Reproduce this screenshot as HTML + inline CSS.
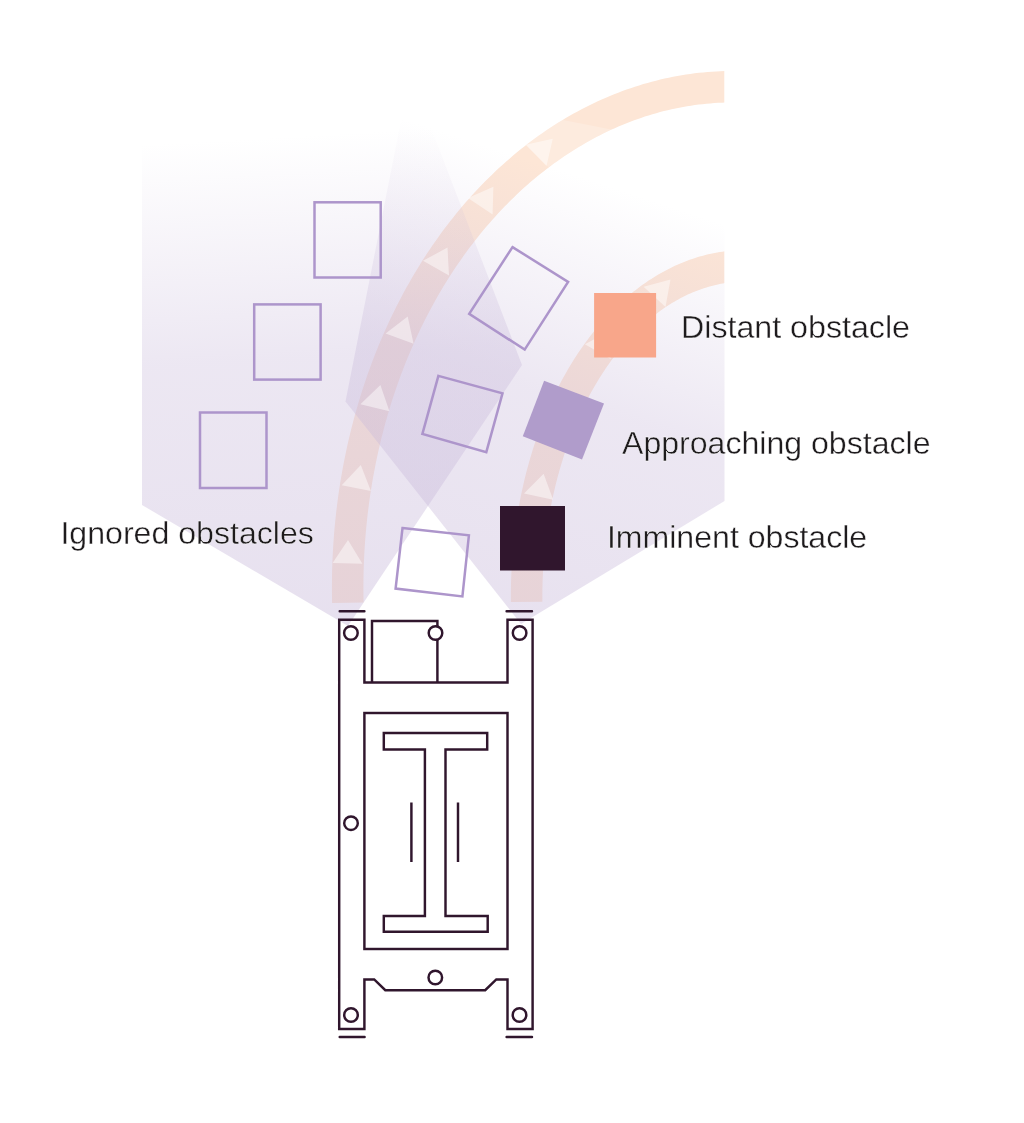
<!DOCTYPE html>
<html><head><meta charset="utf-8"><style>
html,body{margin:0;padding:0;background:#fff;}
svg{display:block;will-change:transform;}
text{font-family:"Liberation Sans",sans-serif;font-size:30.5px;fill:#1e1b1d;stroke:#fff;stroke-width:0.35px;}
</style></head><body>
<svg width="1024" height="1123" viewBox="0 0 1024 1123">
<defs>
<linearGradient id="gl" gradientUnits="userSpaceOnUse" x1="300" y1="627" x2="272" y2="137">
<stop offset="0" stop-color="#c8b9da" stop-opacity="0.44"/>
<stop offset="0.55" stop-color="#c8b9da" stop-opacity="0.34"/>
<stop offset="1" stop-color="#c8b9da" stop-opacity="0"/>
</linearGradient>
<linearGradient id="gr" gradientUnits="userSpaceOnUse" x1="490" y1="652" x2="640" y2="196">
<stop offset="0" stop-color="#c8b9da" stop-opacity="0.44"/>
<stop offset="0.55" stop-color="#c8b9da" stop-opacity="0.34"/>
<stop offset="1" stop-color="#c8b9da" stop-opacity="0"/>
</linearGradient>
<clipPath id="clipband"><rect x="0" y="0" width="724.3" height="1123"/></clipPath>
</defs>
<rect width="1024" height="1123" fill="#fff"/>
<g clip-path="url(#clipband)">
<g fill="none" stroke="#fde6d6" stroke-width="31.5">
<path d="M347.84,602.70 L347.73,597.35 L347.68,592.01 L347.66,586.66 L347.69,581.31 L347.76,575.97 L347.88,570.62 L348.04,565.28 L348.25,559.94 L348.50,554.60 L348.79,549.27 L349.13,543.94 L349.51,538.62 L349.93,533.30 L350.40,527.99 L350.91,522.68 L351.47,517.38 L352.06,512.09 L352.71,506.81 L353.39,501.54 L354.12,496.28 L354.89,491.03 L355.71,485.78 L356.57,480.55 L357.47,475.34 L358.41,470.13 L359.40,464.94 L360.43,459.76 L361.50,454.60 L362.62,449.45 L363.78,444.32 L364.97,439.21 L366.22,434.11 L367.50,429.03 L368.82,423.97 L370.19,418.92 L371.60,413.90 L373.05,408.89 L374.54,403.91 L376.07,398.94 L377.64,394.00 L379.25,389.08 L380.90,384.18 L382.60,379.31 L384.33,374.46 L386.10,369.63 L387.91,364.83 L389.77,360.05 L391.66,355.30 L393.59,350.58 L395.56,345.88 L397.56,341.21 L399.61,336.57 L401.69,331.96 L403.81,327.37 L405.97,322.82 L408.17,318.29 L410.40,313.80 L412.67,309.34 L414.98,304.91 L417.32,300.51 L419.70,296.15 L422.11,291.81 L424.56,287.52 L427.05,283.25 L429.57,279.02 L432.12,274.83 L434.71,270.67 L437.34,266.55 L440.00,262.46 L442.69,258.41 L445.41,254.40 L448.17,250.43 L450.96,246.49 L453.78,242.59 L456.63,238.74 L459.51,234.92 L462.43,231.14 L465.38,227.41 L468.36,223.71 L471.36,220.06 L474.40,216.45 L477.47,212.88 L480.56,209.35 L483.69,205.87 L486.84,202.43 L490.02,199.03 L493.23,195.68 L496.47,192.37 L499.74,189.11 L503.03,185.89 L506.34,182.72 L509.69,179.59 L513.05,176.51 L516.45,173.48 L519.87,170.50 L523.31,167.56 L526.77,164.67 L530.26,161.83 L533.78,159.04 L537.31,156.29 L540.87,153.60 L544.45,150.95 L548.05,148.36 L551.68,145.81 L555.32,143.32 L558.99,140.87 L562.67,138.48 L566.37,136.14 L570.09,133.85 L573.84,131.61 L577.60,129.42 L581.37,127.29 L585.17,125.20 L588.98,123.18 L592.81,121.20 L596.65,119.27 L600.51,117.40 L604.38,115.59 L608.27,113.82 L612.18,112.12 L616.09,110.46 L620.03,108.86 L623.97,107.31 L627.93,105.82 L631.89,104.39 L635.87,103.01 L639.86,101.68 L643.87,100.41 L647.88,99.19 L651.90,98.03 L655.93,96.93 L659.97,95.88 L664.02,94.89 L668.08,93.96 L672.14,93.08 L676.21,92.25 L680.29,91.49 L684.37,90.78 L688.46,90.12 L692.55,89.53 L696.65,88.99 L700.75,88.50 L704.86,88.08 L708.97,87.71 L713.08,87.40 L717.20,87.14 L721.32,86.94 L725.43,86.80 L729.55,86.72 L733.57,86.69"/>
<path d="M526.64,601.90 L526.61,598.40 L526.61,594.90 L526.64,591.40 L526.68,587.90 L526.76,584.40 L526.85,580.90 L526.97,577.41 L527.12,573.92 L527.29,570.42 L527.48,566.94 L527.70,563.45 L527.94,559.97 L528.21,556.49 L528.50,553.02 L528.82,549.55 L529.16,546.09 L529.53,542.64 L529.91,539.19 L530.33,535.74 L530.77,532.30 L531.23,528.87 L531.71,525.45 L532.22,522.04 L532.75,518.63 L533.31,515.23 L533.89,511.84 L534.50,508.46 L535.12,505.10 L535.78,501.74 L536.45,498.39 L537.15,495.05 L537.87,491.73 L538.62,488.41 L539.38,485.11 L540.18,481.82 L540.99,478.54 L541.83,475.28 L542.69,472.03 L543.57,468.79 L544.48,465.57 L545.40,462.36 L546.35,459.17 L547.33,455.99 L548.32,452.83 L549.34,449.69 L550.38,446.56 L551.44,443.45 L552.52,440.35 L553.63,437.28 L554.75,434.22 L555.90,431.18 L557.07,428.15 L558.26,425.15 L559.47,422.16 L560.70,419.20 L561.95,416.25 L563.22,413.33 L564.51,410.43 L565.83,407.54 L567.16,404.68 L568.51,401.84 L569.89,399.02 L571.28,396.22 L572.69,393.45 L574.12,390.70 L575.57,387.97 L577.04,385.26 L578.53,382.58 L580.04,379.92 L581.57,377.29 L583.11,374.68 L584.67,372.09 L586.25,369.53 L587.85,367.00 L589.47,364.49 L591.10,362.01 L592.75,359.56 L594.42,357.13 L596.10,354.72 L597.80,352.35 L599.52,350.00 L601.26,347.68 L603.01,345.39 L604.77,343.12 L606.56,340.89 L608.35,338.68 L610.17,336.50 L612.00,334.35 L613.84,332.23 L615.70,330.14 L617.57,328.08 L619.46,326.05 L621.36,324.05 L623.27,322.08 L625.20,320.14 L627.14,318.23 L629.10,316.35 L631.07,314.51 L633.05,312.70 L635.04,310.91 L637.05,309.16 L639.07,307.44 L641.10,305.76 L643.14,304.11 L645.19,302.49 L647.26,300.90 L649.33,299.34 L651.42,297.82 L653.52,296.34 L655.62,294.88 L657.74,293.46 L659.87,292.07 L662.00,290.72 L664.15,289.40 L666.31,288.12 L668.47,286.87 L670.64,285.66 L672.82,284.48 L675.01,283.33 L677.21,282.22 L679.41,281.15 L681.63,280.11 L683.85,279.11 L686.07,278.14 L688.30,277.21 L690.54,276.31 L692.79,275.45 L695.04,274.62 L697.30,273.84 L699.56,273.08 L701.83,272.37 L704.10,271.69 L706.38,271.04 L708.66,270.44 L710.94,269.87 L713.23,269.33 L715.53,268.83 L717.82,268.37 L720.12,267.95 L722.42,267.56 L724.73,267.21 L727.04,266.90 L729.35,266.62 L731.66,266.38 L733.97,266.18 L736.28,266.01 L738.60,265.88 L740.92,265.79 L743.23,265.74 L745.49,265.72"/>
</g>
</g>
<path d="M348,626 L142,505 L142,60 L405,60 L522,365 Z" fill="url(#gl)"/>
<path d="M521,624 L724.5,501 L724.5,60 L413,60 L345.5,401.5 Z" fill="url(#gr)"/>
<clipPath id="seg"><path d="M510,128 L533,114 L634,134 L563,182 Z"/></clipPath>
<g clip-path="url(#seg)"><path d="M347.84,602.70 L347.73,597.35 L347.68,592.01 L347.66,586.66 L347.69,581.31 L347.76,575.97 L347.88,570.62 L348.04,565.28 L348.25,559.94 L348.50,554.60 L348.79,549.27 L349.13,543.94 L349.51,538.62 L349.93,533.30 L350.40,527.99 L350.91,522.68 L351.47,517.38 L352.06,512.09 L352.71,506.81 L353.39,501.54 L354.12,496.28 L354.89,491.03 L355.71,485.78 L356.57,480.55 L357.47,475.34 L358.41,470.13 L359.40,464.94 L360.43,459.76 L361.50,454.60 L362.62,449.45 L363.78,444.32 L364.97,439.21 L366.22,434.11 L367.50,429.03 L368.82,423.97 L370.19,418.92 L371.60,413.90 L373.05,408.89 L374.54,403.91 L376.07,398.94 L377.64,394.00 L379.25,389.08 L380.90,384.18 L382.60,379.31 L384.33,374.46 L386.10,369.63 L387.91,364.83 L389.77,360.05 L391.66,355.30 L393.59,350.58 L395.56,345.88 L397.56,341.21 L399.61,336.57 L401.69,331.96 L403.81,327.37 L405.97,322.82 L408.17,318.29 L410.40,313.80 L412.67,309.34 L414.98,304.91 L417.32,300.51 L419.70,296.15 L422.11,291.81 L424.56,287.52 L427.05,283.25 L429.57,279.02 L432.12,274.83 L434.71,270.67 L437.34,266.55 L440.00,262.46 L442.69,258.41 L445.41,254.40 L448.17,250.43 L450.96,246.49 L453.78,242.59 L456.63,238.74 L459.51,234.92 L462.43,231.14 L465.38,227.41 L468.36,223.71 L471.36,220.06 L474.40,216.45 L477.47,212.88 L480.56,209.35 L483.69,205.87 L486.84,202.43 L490.02,199.03 L493.23,195.68 L496.47,192.37 L499.74,189.11 L503.03,185.89 L506.34,182.72 L509.69,179.59 L513.05,176.51 L516.45,173.48 L519.87,170.50 L523.31,167.56 L526.77,164.67 L530.26,161.83 L533.78,159.04 L537.31,156.29 L540.87,153.60 L544.45,150.95 L548.05,148.36 L551.68,145.81 L555.32,143.32 L558.99,140.87 L562.67,138.48 L566.37,136.14 L570.09,133.85 L573.84,131.61 L577.60,129.42 L581.37,127.29 L585.17,125.20 L588.98,123.18 L592.81,121.20 L596.65,119.27 L600.51,117.40 L604.38,115.59 L608.27,113.82 L612.18,112.12 L616.09,110.46 L620.03,108.86 L623.97,107.31 L627.93,105.82 L631.89,104.39 L635.87,103.01 L639.86,101.68 L643.87,100.41 L647.88,99.19 L651.90,98.03 L655.93,96.93 L659.97,95.88 L664.02,94.89 L668.08,93.96 L672.14,93.08 L676.21,92.25 L680.29,91.49 L684.37,90.78 L688.46,90.12 L692.55,89.53 L696.65,88.99 L700.75,88.50 L704.86,88.08 L708.97,87.71 L713.08,87.40 L717.20,87.14 L721.32,86.94 L725.43,86.80 L729.55,86.72 L733.57,86.69" fill="none" stroke="#fff" stroke-opacity="0.2" stroke-width="31.5"/></g>
<g clip-path="url(#clipband)" fill="#fff" fill-opacity="0.47">
<path d="M348.0,539.9 L362.4,563.7 L332.6,563.1Z"/>
<path d="M360.8,465.1 L370.9,491.0 L341.7,485.3Z"/>
<path d="M380.4,384.9 L389.4,411.2 L360.4,404.2Z"/>
<path d="M407.7,316.5 L413.6,343.7 L385.6,333.4Z"/>
<path d="M447.5,247.6 L449.0,275.4 L423.0,260.8Z"/>
<path d="M493.4,186.7 L492.6,214.5 L467.9,197.9Z"/>
<path d="M552.8,138.8 L546.5,165.9 L525.6,144.7Z"/>
<path d="M543.6,473.7 L553.2,499.8 L524.0,493.5Z"/>
<path d="M569.0,400.5 L574.5,427.8 L546.7,417.1Z"/>
<path d="M609.5,331.3 L610.7,359.1 L584.8,344.2Z"/>
<path d="M670.5,279.6 L665.5,307.0 L643.6,286.7Z"/>
</g>
<g fill="none" stroke="#ad95cb" stroke-width="2.5">
<rect x="314.5" y="202.3" width="66.2" height="75.2"/>
<rect x="254.2" y="304.4" width="66.4" height="75.2"/>
<rect x="200" y="412.5" width="66.5" height="75.5"/>
<path d="M512.5,247.1 L568.1,281.9 L524.7,349.6 L469.2,313.9 Z"/>
<path d="M438.4,375.9 L502.5,393.4 L486.3,452.1 L422.4,434 Z"/>
<path d="M402.5,528.1 L468.9,535.3 L462.4,596.4 L395.6,588.6 Z"/>
</g>
<rect x="594.1" y="293" width="62" height="64.5" fill="#f8a68a"/>
<path d="M544.1,380.8 L604,403.5 L582,459.5 L522.8,436.3 Z" fill="#b09ccb"/>
<rect x="500" y="506" width="65" height="64.5" fill="#30162d"/>

<g fill="none" stroke="#30162d" stroke-width="2.45" stroke-linejoin="miter" stroke-linecap="butt">
<path d="M339.2,619.8 H364.4 V682.5 H507.5 V619.8 H532.6 V1029 H507.5 V979.4 H496.3 L485.2,990.2 H385.3 L374.2,979.4 H364.4 V1029 H339.2 Z"/>
<path d="M372,682.5 V621 H437.4 V682.5"/>
<rect x="364.4" y="713" width="143.1" height="236"/>
<path d="M424.9,749.5 H383.8 V733 H487.2 V749.5 H445.5 V916 H487.7 V931.7 H383.8 V916 H424.9 Z"/>
<path d="M411.4,802.6 V862 M458,802.6 V862"/>
<g fill="#fff">
<circle cx="350.9" cy="633" r="6.8"/>
<circle cx="435.5" cy="633" r="6.8"/>
<circle cx="519.6" cy="633" r="6.8"/>
<circle cx="351" cy="823.2" r="6.8"/>
<circle cx="435.3" cy="977.5" r="6.8"/>
<circle cx="351" cy="1015" r="6.8"/>
<circle cx="519.5" cy="1015" r="6.8"/>
</g>
<path stroke-linecap="round" d="M339.7,611.2 H364.4 M506.6,611.2 H532 M339.7,1036.9 H364.6 M506.6,1036.9 H532"/>
</g>

<text x="681" y="337.8" textLength="229" lengthAdjust="spacingAndGlyphs">Distant obstacle</text>
<text x="622" y="453.5" textLength="308.5" lengthAdjust="spacingAndGlyphs">Approaching obstacle</text>
<text x="606.9" y="548.3" textLength="260.3" lengthAdjust="spacingAndGlyphs">Imminent obstacle</text>
<text x="60.4" y="543.7" textLength="253.5" lengthAdjust="spacingAndGlyphs">Ignored obstacles</text>
</svg>
</body></html>
